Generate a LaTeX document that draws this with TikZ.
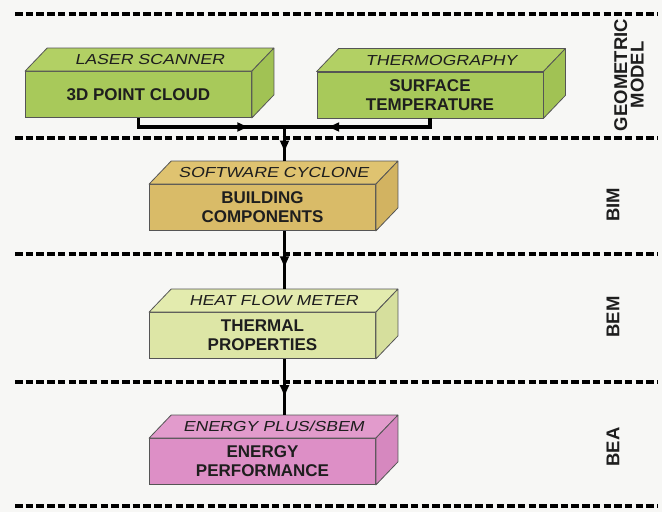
\documentclass[tikz,border=0pt]{standalone}
\usepackage{fontspec}
\setmainfont{Liberation Sans}
\newfontfamily\tagfont[FakeStretch=1.22,FakeSlant=0.21]{Liberation Sans}
\usepackage{tikz}
\usetikzlibrary{calc}
\usetikzlibrary{arrows.meta,decorations.markings}
\definecolor{paper}{HTML}{F7F7F5}
\definecolor{edgegray}{HTML}{555555}
\definecolor{textdark}{HTML}{1E1E1E}
\definecolor{greenfront}{HTML}{A8C95A}
\definecolor{greentop}{HTML}{B2D064}
\definecolor{greenside}{HTML}{A1C254}
\definecolor{tanfront}{HTML}{D9BB68}
\definecolor{tantop}{HTML}{DFC370}
\definecolor{tanside}{HTML}{D2B361}
\definecolor{palefront}{HTML}{DDE6A6}
\definecolor{paletop}{HTML}{E3EBAE}
\definecolor{paleside}{HTML}{D6DF9D}
\definecolor{pinkfront}{HTML}{DD8FC6}
\definecolor{pinktop}{HTML}{E29BCC}
\definecolor{pinkside}{HTML}{D688BF}
\tikzset{
  slab/.style={draw=edgegray, line width=0.8pt, minimum width=226pt, minimum height=46pt,
    inner sep=0pt, align=center, text=textdark, font=\fontsize{17}{19}\selectfont\bfseries},
  slabedge/.style={draw=edgegray, line width=0.8pt, line join=round},
  tag/.style={inner sep=0pt, text=textdark, font=\tagfont\fontsize{14.5}{16}\selectfont},
  divider/.style={line width=3.4pt, dash pattern=on 7.5pt off 3.2pt},
  flow/.style={line width=3.3pt},
  midarrow/.style={postaction={decorate, decoration={markings,
    mark=at position #1 with {\arrow{Latex[length=13pt,width=10pt]}}}}},
  phase/.style={rotate=90, align=center, inner sep=0pt, text=textdark,
    font=\fontsize{18.5}{16.5}\selectfont\bfseries}
}
\newcommand{\slab}[5]{ \node[slab, fill=#2front] (#1) at (#3) {#4};
  \draw[slabedge, fill=#2top] (#1.north west) -- ($(#1.north west)+(22,23)$) -- ($(#1.north east)+(22,23)$) -- (#1.north east) -- cycle;
  \draw[slabedge, fill=#2side] (#1.north east) -- ($(#1.north east)+(22,23)$) -- ($(#1.south east)+(22,23)$) -- (#1.south east) -- cycle;
  \node[tag] (#1-tag) at ($(#1.north)+(11,11.5)$) {#5};
  \coordinate (#1-in) at ($(#1.north)+(22,23)$);
  \coordinate (#1-out) at ($(#1.south)+(22,0)$);}

\begin{document}
\begin{tikzpicture}[x=1pt,y=1pt]
        \fill[paper] (0,0) rectangle (662,512);
        % layers
        \foreach \y in {498,374,258,130,6}
            \draw[divider] (15,\y) -- (658,\y);

        % geometric model
        \slab{laser}{green}{138.5,417.5}{3D POINT CLOUD}{LASER SCANNER}
        \slab{thermo}{green}{430,417}{SURFACE\\TEMPERATURE}{THERMOGRAPHY}
        % bim
        \slab{bim}{tan}{262.5,304.5}{BUILDING\\COMPONENTS}{SOFTWARE CYCLONE}
        % bem
        \slab{bem}{pale}{262.5,176.5}{THERMAL\\PROPERTIES}{HEAT FLOW METER}
        % bea
        \slab{bea}{pink}{262.5,50.5}{ENERGY\\PERFORMANCE}{ENERGY PLUS/SBEM}

        % arrows
        \coordinate (join) at (284.5,385);
        \draw[flow, midarrow=0.78] (laser.south) |- (join);
        \draw[flow, midarrow=0.73] (thermo.south) |- (join);
        \draw[flow, midarrow=0.78] (join) -- (bim-in);
        \draw[flow, midarrow=0.66] (bim-out) -- (bem-in);
        \draw[flow, midarrow=0.70] (bem-out) -- (bea-in);

        % labels
        \node[phase] (geo) at (629,437) {GEOMETRIC\\MODEL};
        \node[phase] (bimlabel) at (613,307) {BIM};
        \node[phase] (bemlabel) at (613,195) {BEM};
        \node[phase] (bealabel) at (613,65) {BEA};
    \end{tikzpicture}
\end{document}
